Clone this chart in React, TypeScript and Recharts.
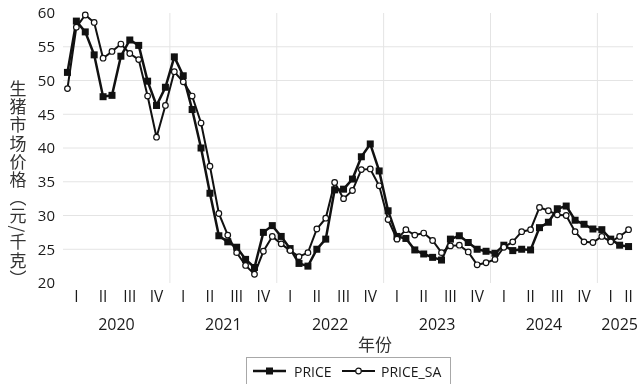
import React from 'react'
import { LineChart, Line, XAxis, YAxis, CartesianGrid, Legend } from 'recharts'

// monthly, Jan 2020 – Apr 2025
const price = [
  51.2, 58.8, 57.2, 53.8, 47.6, 47.8, 53.6, 56.0, 55.2, 49.9, 46.3, 49.0,
  53.5, 50.7, 45.7, 40.0, 33.3, 27.0, 26.1, 25.3, 23.5, 22.3, 27.5, 28.5,
  26.9, 25.1, 22.9, 22.5, 25.0, 26.5, 33.8, 33.9, 35.4, 38.7, 40.6, 36.6,
  30.7, 26.9, 26.6, 24.9, 24.3, 23.8, 23.4, 26.5, 27.0, 26.0, 25.0, 24.7,
  24.4, 25.6, 24.8, 25.0, 24.9, 28.2, 29.0, 31.0, 31.4, 29.3, 28.7, 28.0,
  27.9, 26.5, 25.6, 25.4,
]
const priceSA = [
  48.8, 57.9, 59.7, 58.6, 53.3, 54.3, 55.4, 54.0, 53.1, 47.7, 41.6, 46.3,
  51.3, 49.8, 47.7, 43.7, 37.3, 30.3, 27.1, 24.5, 22.6, 21.3, 24.7, 26.9,
  25.8, 24.8, 23.9, 24.5, 28.0, 29.6, 34.9, 32.5, 33.7, 36.8, 36.9, 34.4,
  29.4, 26.5, 27.9, 27.1, 27.4, 26.3, 24.5, 25.5, 25.6, 24.6, 22.7, 23.0,
  23.5, 25.3, 26.1, 27.6, 27.9, 31.2, 30.7, 30.1, 30.0, 27.6, 26.1, 26.0,
  26.9, 26.1, 26.9, 27.9,
]
const quarterNames = ['I', 'II', 'III', 'IV']
const years = ['2020', '2021', '2022', '2023', '2024', '2025']
const yTicks = [20, 25, 30, 35, 40, 45, 50, 55, 60]

const data = price.map((p, i) => ({ t: i + 0.5, PRICE: p, PRICE_SA: priceSA[i] }))
const quarterTicks = [...Array.from({ length: 21 }, (_, q) => q * 3 + 1.5), 63.5]
const yearTicks = [6, 18, 30, 42, 54, 62.5]

const font = '"Open Sans", sans-serif'
const cjk = '"Noto Sans CJK SC", sans-serif'
const ink = '#1a1a1a'

function SquareDot(props: any) {
  const { cx, cy } = props
  if (cx == null || cy == null) return null
  return <rect x={cx - 3.5} y={cy - 3.5} width={7} height={7} fill="#111" />
}

function CircleDot(props: any) {
  const { cx, cy } = props
  if (cx == null || cy == null) return null
  return <circle cx={cx} cy={cy} r={2.8} fill="#fff" stroke="#111" strokeWidth={1.2} />
}

function LegendBox() {
  return (
    <div
      style={{
        position: 'relative',
        width: 205,
        height: 30,
        border: '1px solid #a8a8a8',
        boxSizing: 'border-box',
        fontFamily: font,
        fontSize: 14,
        color: ink,
      }}
    >
      <svg width={34} height={12} style={{ position: 'absolute', left: 6, top: 7 }}>
        <line x1={0} y1={6} x2={33} y2={6} stroke="#111" strokeWidth={2.5} />
        <rect x={13} y={2.5} width={7} height={7} fill="#111" />
      </svg>
      <span style={{ position: 'absolute', left: 47, top: 4 }}>PRICE</span>
      <svg width={34} height={12} style={{ position: 'absolute', left: 95, top: 7 }}>
        <line x1={0} y1={6} x2={33} y2={6} stroke="#111" strokeWidth={2} />
        <circle cx={16.5} cy={6} r={2.8} fill="#fff" stroke="#111" strokeWidth={1.2} />
      </svg>
      <span style={{ position: 'absolute', left: 134, top: 4 }}>PRICE_SA</span>
    </div>
  )
}

export default function App() {
  return (
    <div
      style={{
        position: 'absolute',
        left: 0,
        top: 0,
        width: 639,
        height: 384,
        overflow: 'hidden',
        background: '#fff',
        willChange: 'transform',
      }}
    >
      <LineChart width={639} height={384} data={data} margin={{ top: 13, right: 6, left: 0, bottom: 23 }}>
        <CartesianGrid
          stroke="#e4e4e4"
          horizontalValues={[25, 30, 35, 40, 45, 50, 55]}
          verticalValues={[12, 24, 36, 48, 60]}
        />
        <XAxis
          dataKey="t"
          type="number"
          domain={[0, 64]}
          ticks={quarterTicks}
          interval={0}
          tickFormatter={(v: number) => quarterNames[Math.floor(v / 3) % 4]}
          axisLine={false}
          tickLine={false}
          height={28}
          tick={{ fontSize: 15.5, fill: ink, fontFamily: font }}
        />
        <XAxis
          xAxisId="year"
          dataKey="t"
          type="number"
          domain={[0, 64]}
          ticks={yearTicks}
          interval={0}
          tickFormatter={(_: number, i: number) => years[i]}
          axisLine={false}
          tickLine={false}
          height={50}
          tick={{ fontSize: 16, fill: ink, fontFamily: font }}
          label={{
            content: () => (
              <text x={375} y={351} textAnchor="middle" fontSize={17} fontFamily={cjk} fill="#333">
                年份
              </text>
            ),
          }}
        />
        <YAxis
          type="number"
          domain={[20, 60]}
          ticks={yTicks}
          interval={0}
          axisLine={false}
          tickLine={false}
          width={63}
          tick={{ fontSize: 15, fill: ink, fontFamily: font }}
          label={{
            content: () => (
              <text
                x={18}
                y={80}
                fontSize={17}
                fontFamily={cjk}
                fill="#333"
                letterSpacing={1.2}
                style={{ writingMode: 'vertical-rl' }}
              >
                生猪市场价格（元/千克）
              </text>
            ),
          }}
        />
        <Legend
          layout="horizontal"
          verticalAlign="middle"
          align="center"
          content={() => <LegendBox />}
          wrapperStyle={{ top: 357, left: 246, width: 205, height: 30, bottom: 'auto' }}
        />
        <Line
          type="linear"
          dataKey="PRICE"
          stroke="#111"
          strokeWidth={2.5}
          dot={<SquareDot />}
          activeDot={false}
          isAnimationActive={false}
        />
        <Line
          type="linear"
          dataKey="PRICE_SA"
          stroke="#111"
          strokeWidth={2}
          dot={<CircleDot />}
          activeDot={false}
          isAnimationActive={false}
        />
      </LineChart>
    </div>
  )
}
